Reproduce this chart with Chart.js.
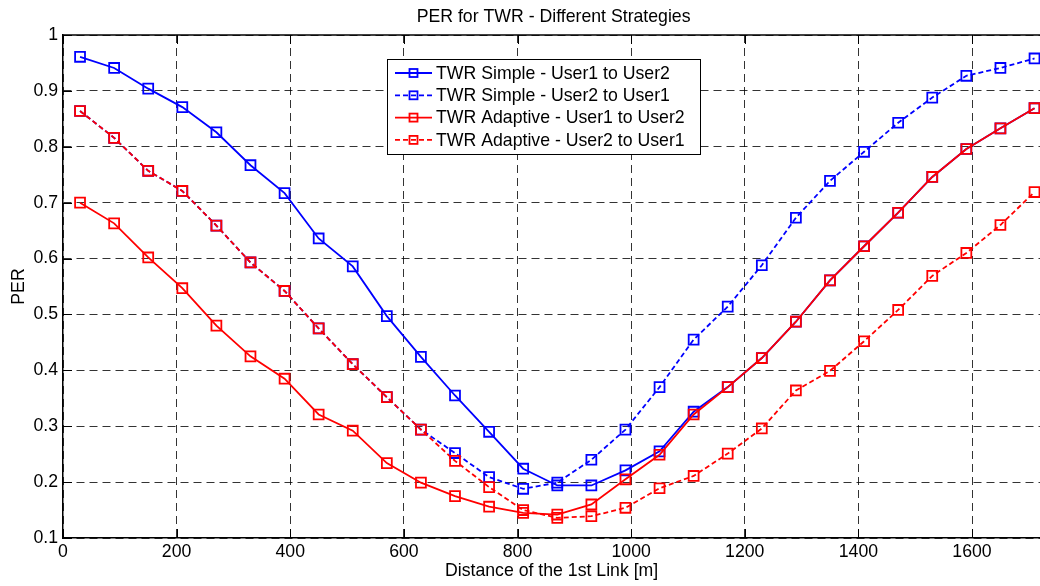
<!DOCTYPE html>
<html>
<head>
<meta charset="utf-8">
<title>PER for TWR - Different Strategies</title>
<script src="https://cdn.jsdelivr.net/npm/chart.js@4.4.1/dist/chart.umd.min.js"></script>
<style>
  html, body { margin: 0; padding: 0; background: #fff; width: 1040px; height: 586px; overflow: hidden; }
  /* a few px wider than the page: chart.js keeps room for the last marker, we let it fall off the edge */
  #wrap { width: 1049px; height: 586px; }
</style>
</head>
<body>
<div id="wrap"><canvas id="perChart"></canvas></div>
<script>
// distance of the 1st link [m]
const distance = [30, 90, 150, 210, 270, 330, 390, 450, 510, 570, 630, 690, 750, 810, 870,
                  930, 990, 1050, 1110, 1170, 1230, 1290, 1350, 1410, 1470, 1530, 1590, 1650, 1710];

const simpleU1toU2 = [0.961, 0.941, 0.904, 0.871, 0.826, 0.767, 0.717, 0.636, 0.586, 0.497,
                      0.424, 0.355, 0.290, 0.224, 0.194, 0.194, 0.221, 0.255, 0.326, 0.370,
                      0.422, 0.487, 0.561, 0.622, 0.682, 0.746, 0.796, 0.833, 0.869];
const simpleU2toU1 = [0.864, 0.816, 0.757, 0.721, 0.659, 0.593, 0.542, 0.475, 0.411, 0.352,
                      0.294, 0.252, 0.209, 0.188, 0.199, 0.240, 0.294, 0.370, 0.455, 0.514,
                      0.588, 0.673, 0.739, 0.791, 0.843, 0.888, 0.927, 0.941, 0.958];
const adaptiveU1toU2 = [0.700, 0.663, 0.602, 0.547, 0.480, 0.425, 0.385, 0.321, 0.292, 0.234,
                        0.199, 0.175, 0.156, 0.145, 0.142, 0.160, 0.205, 0.249, 0.321, 0.370,
                        0.422, 0.487, 0.561, 0.622, 0.682, 0.746, 0.796, 0.833, 0.869];
const adaptiveU2toU1 = [0.864, 0.816, 0.757, 0.721, 0.659, 0.593, 0.542, 0.475, 0.411, 0.352,
                        0.294, 0.238, 0.191, 0.150, 0.136, 0.139, 0.154, 0.189, 0.211, 0.251,
                        0.296, 0.364, 0.399, 0.452, 0.508, 0.569, 0.610, 0.660, 0.719];

const seriesNames = ['TWR Simple - User1 to User2', 'TWR Simple - User2 to User1',
                     'TWR Adaptive - User1 to User2', 'TWR Adaptive - User2 to User1'];

const FONT = "'Liberation Sans', Arial, sans-serif";
const FSIZE = 17.7;

function points(ys) {
    return distance.map((d, i) => ({ x: d, y: ys[i] }));
}

function series(i, ys, color, dashed) {
    return {
        label: seriesNames[i],
        data: points(ys),
        borderColor: color,
        backgroundColor: 'transparent',
        borderWidth: 1.8,
        borderDash: dashed ? [5, 3] : [],
        pointStyle: 'rect',
        pointRadius: 7,
        pointBorderWidth: 1.8,
        pointBorderColor: color,
        pointBackgroundColor: 'transparent',
        tension: 0,
        order: 3 - i   // later series on top, like matlab
    };
}

// title, top border, inward ticks and the boxed legend
const matlabLook = {
    id: 'matlabLook',
    afterDraw(chart) {
        const ctx = chart.ctx;
        const a = chart.chartArea;
        const xs = chart.scales.x, ys = chart.scales.y;
        ctx.save();

        ctx.fillStyle = '#000';
        ctx.font = FSIZE + 'px ' + FONT;
        ctx.textAlign = 'center';
        ctx.textBaseline = 'alphabetic';
        ctx.fillText('PER for TWR - Different Strategies', (a.left + a.right) / 2 + 2, 22);

        ctx.strokeStyle = '#000';
        ctx.lineWidth = 1.5;
        ctx.setLineDash([]);
        ctx.beginPath();
        ctx.moveTo(a.left, a.top);
        ctx.lineTo(a.right, a.top);
        ctx.stroke();

        ctx.lineWidth = 1;
        ctx.beginPath();
        xs.ticks.forEach(t => {
            const px = Math.round(xs.getPixelForValue(t.value)) + 0.5;
            ctx.moveTo(px, a.bottom); ctx.lineTo(px, a.bottom - 9);
            ctx.moveTo(px, a.top); ctx.lineTo(px, a.top + 9);
        });
        ys.ticks.forEach(t => {
            const py = Math.round(ys.getPixelForValue(t.value)) + 0.5;
            ctx.moveTo(a.left, py); ctx.lineTo(a.left + 9, py);
        });
        ctx.stroke();

        // legend
        const bx = 387, by = 59, bw = 313, bh = 95;
        ctx.fillStyle = '#fff';
        ctx.fillRect(bx, by, bw, bh);
        ctx.strokeStyle = '#000';
        ctx.lineWidth = 1;
        ctx.strokeRect(bx + 0.5, by + 0.5, bw, bh);
        chart.data.datasets.forEach((ds, i) => {
            const y = by + 14 + i * 22.3;
            ctx.strokeStyle = ds.borderColor;
            ctx.lineWidth = 1.8;
            ctx.setLineDash(ds.borderDash);
            ctx.beginPath();
            ctx.moveTo(395, y); ctx.lineTo(432, y);
            ctx.stroke();
            ctx.setLineDash([]);
            ctx.strokeRect(409.5, y - 4, 8, 8);
            ctx.fillStyle = '#000';
            ctx.font = FSIZE + 'px ' + FONT;
            ctx.textAlign = 'left';
            ctx.textBaseline = 'middle';
            ctx.fillText(ds.label, 436, y + 1);
        });
        ctx.restore();
    }
};

const ctx = document.getElementById('perChart').getContext('2d');
new Chart(ctx, {
    type: 'line',
    data: {
        datasets: [
            series(0, simpleU1toU2, '#0000ff', false),
            series(1, simpleU2toU1, '#0000ff', true),
            series(2, adaptiveU1toU2, '#ff0000', false),
            series(3, adaptiveU2toU1, '#ff0000', true)
        ]
    },
    options: {
        responsive: true,
        maintainAspectRatio: false,
        animation: false,
        layout: { padding: { top: 35, right: 0, bottom: 0, left: 0 } },
        plugins: {
            legend: { display: false },
            tooltip: { enabled: false },
            title: { display: false }
        },
        scales: {
            x: {
                type: 'linear',
                min: 0,
                max: 1720,
                afterFit: s => { s.height = 48; },
                ticks: {
                    stepSize: 200,
                    includeBounds: false,
                    padding: 3,
                    color: '#000',
                    font: { family: FONT, size: FSIZE },
                    maxRotation: 0,
                    callback: v => String(v)
                },
                grid: { color: 'rgba(0,0,0,0.8)', lineWidth: 1, drawTicks: false },
                border: { display: true, color: '#000', width: 1.5, dash: [8, 5] },
                title: {
                    display: true,
                    text: 'Distance of the 1st Link [m]',
                    color: '#000',
                    font: { family: FONT, size: FSIZE },
                    padding: { top: 0, bottom: 4 }
                }
            },
            y: {
                min: 0.1,
                max: 1,
                afterFit: s => { s.width = 63; },
                ticks: {
                    stepSize: 0.1,
                    padding: 5,
                    color: '#000',
                    font: { family: FONT, size: FSIZE },
                    callback: v => String(Number(v.toFixed(1)))
                },
                grid: { color: 'rgba(0,0,0,0.8)', lineWidth: 1, drawTicks: false },
                border: { display: true, color: '#000', width: 1.5, dash: [8, 5] },
                title: {
                    display: true,
                    text: 'PER',
                    color: '#000',
                    font: { family: FONT, size: FSIZE },
                    padding: { top: 8, bottom: 0 }
                }
            }
        }
    },
    plugins: [matlabLook]
});
</script>
</body>
</html>
